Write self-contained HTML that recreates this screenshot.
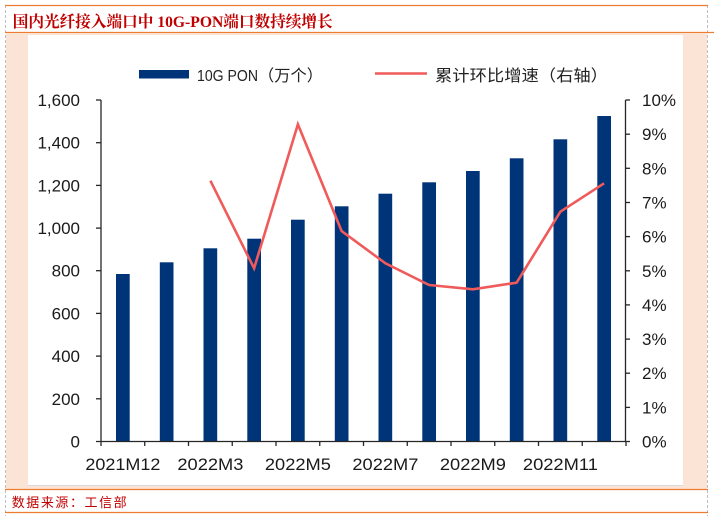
<!DOCTYPE html>
<html>
<head>
<meta charset="utf-8">
<style>
html,body{margin:0;padding:0;background:#fff;}
svg{display:block;}
</style>
</head>
<body>
<svg width="714" height="516" viewBox="0 0 714 516" xmlns="http://www.w3.org/2000/svg">
  <rect x="0" y="0" width="714" height="516" fill="#ffffff"/>
  <!-- frame -->
  <line x1="5.5" y1="5" x2="5.5" y2="516" stroke="#bfbfbf" stroke-width="1" stroke-dasharray="3,2"/>
  <line x1="707.5" y1="5" x2="707.5" y2="516" stroke="#bfbfbf" stroke-width="1" stroke-dasharray="3,2"/>
  <line x1="5" y1="5.5" x2="708" y2="5.5" stroke="#ed7d31" stroke-width="1.3"/>
  <text x="12.7" y="27" font-family="'Liberation Serif','Noto Serif CJK SC',serif" font-weight="bold" font-size="16" fill="#c00000" textLength="320" lengthAdjust="spacingAndGlyphs">国内光纤接入端口中 10G-PON端口数持续增长</text>
  <line x1="5" y1="32.5" x2="714" y2="32.5" stroke="#ed7d31" stroke-width="1.3"/>
  <rect x="6" y="33.2" width="701" height="455.8" fill="#fbe4d5"/>
  <rect x="28" y="35" width="655" height="450" fill="#ffffff"/>
  <line x1="28" y1="485.5" x2="683" y2="485.5" stroke="#d9d9d9" stroke-width="1"/>
  <line x1="5" y1="489.5" x2="708" y2="489.5" stroke="#ed7d31" stroke-width="1.3"/>
  <text x="11.7" y="507" font-family="'Liberation Sans','Noto Sans CJK SC',sans-serif" font-size="13" fill="#c00000" textLength="115" lengthAdjust="spacing">数据来源：工信部</text>
  <line x1="5" y1="512.5" x2="708" y2="512.5" stroke="#ed7d31" stroke-width="1.3"/>

  <!-- legend -->
  <rect x="139" y="70" width="50" height="8.5" fill="#003478"/>
  <text x="197" y="81" font-family="'Liberation Sans Narrow','Liberation Sans',sans-serif" font-size="16" fill="#222" textLength="61" lengthAdjust="spacingAndGlyphs">10G PON</text>
  <text x="258" y="81" font-family="'Liberation Sans','Noto Sans CJK SC',sans-serif" font-size="16" fill="#222" textLength="65" lengthAdjust="spacingAndGlyphs">（万个）</text>
  <line x1="375" y1="73.5" x2="427" y2="73.5" stroke="#f05a5a" stroke-width="2.6"/>
  <text x="435" y="81" font-family="'Liberation Sans','Noto Sans CJK SC',sans-serif" font-size="16" fill="#222" textLength="173" lengthAdjust="spacingAndGlyphs">累计环比增速（右轴）</text>

  <!-- bars -->
  <g fill="#003478">
    <rect x="116.0" y="274.0" width="13.7" height="167.5"/>
    <rect x="159.8" y="262.3" width="13.7" height="179.2"/>
    <rect x="203.5" y="248.3" width="13.7" height="193.2"/>
    <rect x="247.3" y="238.7" width="13.7" height="202.8"/>
    <rect x="291.0" y="219.7" width="13.7" height="221.8"/>
    <rect x="334.8" y="206.3" width="13.7" height="235.2"/>
    <rect x="378.5" y="193.7" width="13.7" height="247.8"/>
    <rect x="422.3" y="182.3" width="13.7" height="259.2"/>
    <rect x="466.0" y="171.0" width="13.7" height="270.5"/>
    <rect x="509.8" y="158.3" width="13.7" height="283.2"/>
    <rect x="553.5" y="139.3" width="13.7" height="302.2"/>
    <rect x="597.3" y="116.0" width="13.7" height="325.5"/>
  </g>

  <!-- line -->
  <polyline fill="none" stroke="#f05a5a" stroke-width="2.6" stroke-linejoin="miter"
    points="210.4,180.7 254.1,268.3 297.9,124.3 341.6,231 385.4,263.3 429.1,285 472.9,289.3 516.6,282.7 560.4,211.7 604.1,183.3"/>

  <!-- axes -->
  <g stroke="#262626" stroke-width="1.3" fill="none">
    <line x1="101" y1="100" x2="101" y2="441.5"/>
    <line x1="625.5" y1="100" x2="625.5" y2="441.5"/>
    <line x1="96" y1="441.5" x2="630" y2="441.5"/>
    <line x1="96" y1="100" x2="101" y2="100"/>
    <line x1="96" y1="142.7" x2="101" y2="142.7"/>
    <line x1="96" y1="185.4" x2="101" y2="185.4"/>
    <line x1="96" y1="228.1" x2="101" y2="228.1"/>
    <line x1="96" y1="270.7" x2="101" y2="270.7"/>
    <line x1="96" y1="313.4" x2="101" y2="313.4"/>
    <line x1="96" y1="356.1" x2="101" y2="356.1"/>
    <line x1="96" y1="398.8" x2="101" y2="398.8"/>
    <line x1="625.5" y1="100" x2="630" y2="100"/>
    <line x1="625.5" y1="134.2" x2="630" y2="134.2"/>
    <line x1="625.5" y1="168.3" x2="630" y2="168.3"/>
    <line x1="625.5" y1="202.5" x2="630" y2="202.5"/>
    <line x1="625.5" y1="236.6" x2="630" y2="236.6"/>
    <line x1="625.5" y1="270.8" x2="630" y2="270.8"/>
    <line x1="625.5" y1="304.9" x2="630" y2="304.9"/>
    <line x1="625.5" y1="339.1" x2="630" y2="339.1"/>
    <line x1="625.5" y1="373.2" x2="630" y2="373.2"/>
    <line x1="625.5" y1="407.4" x2="630" y2="407.4"/>
    <line x1="101" y1="441.5" x2="101" y2="446"/>
    <line x1="144.75" y1="441.5" x2="144.75" y2="446"/>
    <line x1="188.5" y1="441.5" x2="188.5" y2="446"/>
    <line x1="232.25" y1="441.5" x2="232.25" y2="446"/>
    <line x1="276" y1="441.5" x2="276" y2="446"/>
    <line x1="319.75" y1="441.5" x2="319.75" y2="446"/>
    <line x1="363.5" y1="441.5" x2="363.5" y2="446"/>
    <line x1="407.25" y1="441.5" x2="407.25" y2="446"/>
    <line x1="451" y1="441.5" x2="451" y2="446"/>
    <line x1="494.75" y1="441.5" x2="494.75" y2="446"/>
    <line x1="538.5" y1="441.5" x2="538.5" y2="446"/>
    <line x1="582.25" y1="441.5" x2="582.25" y2="446"/>
    <line x1="626" y1="441.5" x2="626" y2="446"/>
  </g>

  <!-- left labels -->
  <g font-family="'Liberation Sans',Arial,sans-serif" font-size="17" fill="#1a1a1a" text-anchor="end">
    <text x="80" y="106">1,600</text>
    <text x="80" y="148.7">1,400</text>
    <text x="80" y="191.4">1,200</text>
    <text x="80" y="234.1">1,000</text>
    <text x="80" y="276.7">800</text>
    <text x="80" y="319.4">600</text>
    <text x="80" y="362.1">400</text>
    <text x="80" y="404.8">200</text>
    <text x="80" y="447.5">0</text>
  </g>
  <!-- right labels -->
  <g font-family="'Liberation Sans',Arial,sans-serif" font-size="17" fill="#1a1a1a" text-anchor="start">
    <text x="642" y="106">10%</text>
    <text x="642" y="140.2">9%</text>
    <text x="642" y="174.3">8%</text>
    <text x="642" y="208.5">7%</text>
    <text x="642" y="242.6">6%</text>
    <text x="642" y="276.8">5%</text>
    <text x="642" y="310.9">4%</text>
    <text x="642" y="345.1">3%</text>
    <text x="642" y="379.2">2%</text>
    <text x="642" y="413.4">1%</text>
    <text x="642" y="447.5">0%</text>
  </g>
  <!-- x labels -->
  <g font-family="'Liberation Sans',Arial,sans-serif" font-size="17" fill="#1a1a1a" text-anchor="middle">
    <text x="122.9" y="470" textLength="75" lengthAdjust="spacingAndGlyphs">2021M12</text>
    <text x="210.4" y="470" textLength="66" lengthAdjust="spacingAndGlyphs">2022M3</text>
    <text x="297.9" y="470" textLength="66" lengthAdjust="spacingAndGlyphs">2022M5</text>
    <text x="385.4" y="470" textLength="66" lengthAdjust="spacingAndGlyphs">2022M7</text>
    <text x="472.9" y="470" textLength="66" lengthAdjust="spacingAndGlyphs">2022M9</text>
    <text x="560.4" y="470" textLength="75" lengthAdjust="spacingAndGlyphs">2022M11</text>
  </g>
</svg>
</body>
</html>
